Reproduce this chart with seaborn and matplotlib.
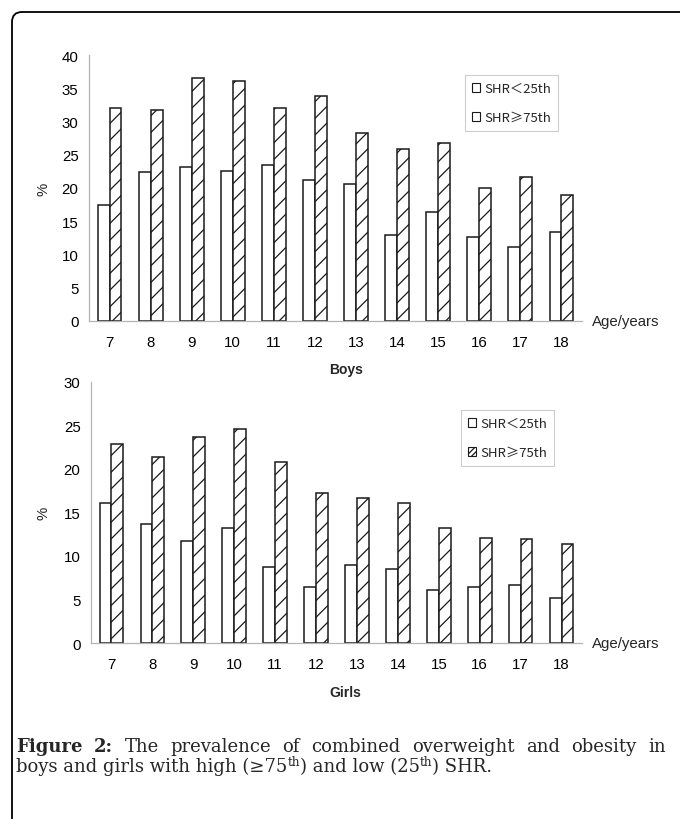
import matplotlib
matplotlib.use("Agg")
import matplotlib.pyplot as plt
import numpy as np
import pandas as pd
import seaborn as sns
from matplotlib.patches import Patch, FancyBboxPatch
from matplotlib.ticker import FixedLocator, MultipleLocator

# ---------------- data ----------------
ages = [7, 8, 9, 10, 11, 12, 13, 14, 15, 16, 17, 18]
groups = ["SHR\uff1c25th", "SHR\u226575th"]
boys_low = [17.4, 22.4, 23.2, 22.6, 23.4, 21.2, 20.6, 12.9, 16.4, 12.7, 11.1, 13.4]
boys_high = [32.0, 31.7, 36.5, 36.1, 32.0, 33.9, 28.2, 25.8, 26.8, 20.0, 21.6, 19.0]
girls_low = [16.1, 13.7, 11.7, 13.2, 8.7, 6.4, 9.0, 8.5, 6.1, 6.4, 6.7, 5.2]
girls_high = [22.9, 21.4, 23.7, 24.6, 20.8, 17.2, 16.7, 16.1, 13.2, 12.1, 11.9, 11.4]
panel_titles = ["Boys", "Girls"]
x_label = "Age/years"
y_label = "%"
caption_bold = "Figure 2:"
caption_line1 = "The prevalence of combined overweight and obesity in"
# line 2 pieces: (text, is_superscript)
caption_line2 = [("boys and girls with high (≥75", False), ("th", True),
                 (") and low (25", False), ("th", True), (") SHR.", False)]


def long_df(low, high):
    return pd.DataFrame({
        "age": [str(a) for a in ages] * 2,
        "value": list(low) + list(high),
        "group": [groups[0]] * len(ages) + [groups[1]] * len(ages),
    })


sns.set_theme(style="white")
plt.rcParams["font.family"] = ["Liberation Sans", "Noto Sans CJK SC", "DejaVu Sans"]
plt.rcParams["hatch.linewidth"] = 0.9

W, H = 680, 820
fig = plt.figure(figsize=(W / 100, H / 100), dpi=100)
fig.patch.set_facecolor("white")

specs = [
    dict(left=89, right=582, y0=322, ytop=56, ymax=40, low=boys_low, high=boys_high,
         title_xy=(346, 370), legend_anchor=(465, 76), hatch_legend=False),
    dict(left=91, right=582, y0=644, ytop=383, ymax=30, low=girls_low, high=girls_high,
         title_xy=(345, 693), legend_anchor=(461, 411), hatch_legend=True),
]

axis_gray = "#b4b4b4"
tick_fs = 10.8

for i, s in enumerate(specs):
    ax = fig.add_axes([s["left"] / W, 1 - s["y0"] / H,
                       (s["right"] - s["left"]) / W, (s["y0"] - s["ytop"]) / H])
    df = long_df(s["low"], s["high"])
    sns.barplot(data=df, x="age", y="value", hue="group", hue_order=groups,
                palette=["white", "white"], saturation=1, edgecolor="#1a1a1a",
                linewidth=1.1, width=0.58, legend=False, ax=ax, errorbar=None)
    for bar in ax.containers[1]:
        bar.set_hatch("//")
    ax.set_xlim(-0.5, len(ages) - 0.5)
    ax.set_ylim(0, s["ymax"])
    ax.yaxis.set_major_locator(MultipleLocator(5))
    for sp in ["top", "right"]:
        ax.spines[sp].set_visible(False)
    for sp in ["left", "bottom"]:
        ax.spines[sp].set_color(axis_gray)
        ax.spines[sp].set_linewidth(0.9)
    ax.tick_params(axis="x", which="major", length=0, pad=10, labelsize=tick_fs, colors="black")
    ax.xaxis.set_minor_locator(FixedLocator(np.arange(-0.5, len(ages), 1.0)))
    ax.tick_params(axis="x", which="minor", direction="in", length=3, color=axis_gray, width=0.9)
    ax.tick_params(axis="y", which="major", direction="inout", length=5, color=axis_gray,
                   width=0.9, pad=5, labelsize=tick_fs, labelcolor="black")
    ax.set_xlabel("")
    ax.set_ylabel(y_label, fontsize=tick_fs)
    ax.yaxis.set_label_coords((51 - s["left"]) / (s["right"] - s["left"]), 0.5)
    ax.text((592 - s["left"]) / (s["right"] - s["left"]), 0, x_label,
            transform=ax.transAxes, ha="left", va="center", fontsize=tick_fs)
    fig.text(s["title_xy"][0] / W, 1 - s["title_xy"][1] / H, panel_titles[i],
             ha="center", va="center", fontsize=10, fontweight="bold")
    handles = [Patch(facecolor="white", edgecolor="#1a1a1a", linewidth=0.8),
               Patch(facecolor="white", edgecolor="#1a1a1a", linewidth=0.8,
                     hatch="//////" if s["hatch_legend"] else None)]
    ax_w = s["right"] - s["left"]
    ax_h = s["y0"] - s["ytop"]
    leg = ax.legend(handles=handles, labels=groups, loc="upper left",
                    bbox_to_anchor=((s["legend_anchor"][0] - s["left"]) / ax_w,
                                    (s["y0"] - s["legend_anchor"][1]) / ax_h),
                    frameon=True, fancybox=False, edgecolor="#c0c0c0",
                    handlelength=0.6, handleheight=0.6, handletextpad=0.3,
                    labelspacing=1.2, borderpad=0.55, borderaxespad=0,
                    prop={"family": ["Noto Sans CJK SC", "DejaVu Sans"], "size": 9.5})
    leg.get_frame().set_linewidth(0.8)

# ---------------- caption ----------------
renderer = fig.canvas.get_renderer()
serif = "DejaVu Serif"
x_start, x_end1, x_end2 = 16, 666, 490
b1, b2 = 752, 772  # baselines in pixels from top


def place_pieces(pieces, size, baseline):
    xs = x_start
    objs = []
    for txt, sup in pieces:
        fs = size * 0.66 if sup else size
        yb = baseline - (size * 1.389 * 0.36 if sup else 0)
        t = fig.text(xs / W, 1 - yb / H, txt, fontsize=fs, family=serif,
                     ha="left", va="baseline")
        wdt = t.get_window_extent(renderer).width
        objs.append(t)
        xs += wdt
    return objs, xs


# fit the caption size so line 2 spans the reference width
probe, end = place_pieces(caption_line2, 12, b2)
for t in probe:
    t.remove()
cap_size = 12 * (x_end2 - x_start) / (end - x_start)
place_pieces(caption_line2, cap_size, b2)

words = [(w, "bold") for w in caption_bold.split()] + [(w, "normal") for w in caption_line1.split()]
txts, widths = [], []
for w, wt in words:
    t = fig.text(0, 1 - b1 / H, w, fontsize=cap_size, family=serif, fontweight=wt,
                 ha="left", va="baseline")
    txts.append(t)
    widths.append(t.get_window_extent(renderer).width)
gap = (x_end1 - x_start - sum(widths)) / (len(words) - 1)
x = x_start
for t, wd in zip(txts, widths):
    t.set_x(x / W)
    x += wd + gap

# ---------------- rounded frame ----------------
frame = FancyBboxPatch((0.12, -1.0), 7.5, 8.2 - 0.13 + 1.0,
                       boxstyle="round,pad=0,rounding_size=0.1",
                       transform=fig.dpi_scale_trans, facecolor="none",
                       edgecolor="black", linewidth=1.3, clip_on=False)
fig.add_artist(frame)

fig.savefig("out.png", dpi=100)
